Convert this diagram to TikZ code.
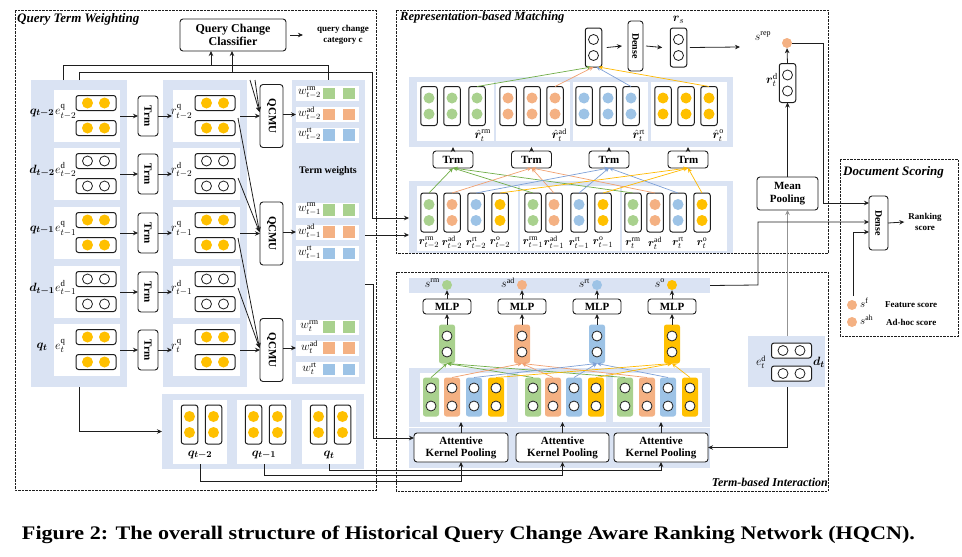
\documentclass[tikz,border=0pt]{standalone}
\usepackage{fontspec}
\usepackage{amsmath}
\usepackage{bm}
\usepackage{graphicx}
\setmainfont{Liberation Serif}
\usetikzlibrary{arrows.meta,calc}
\definecolor{lb}{RGB}{218,227,243}
\definecolor{cg}{RGB}{169,209,142}
\definecolor{co}{RGB}{244,177,131}
\definecolor{cb}{RGB}{157,195,230}
\definecolor{cy}{RGB}{255,192,0}
\definecolor{lg}{RGB}{112,173,71}
\definecolor{lo}{RGB}{241,160,112}
\definecolor{lbl}{RGB}{125,160,215}
\definecolor{ly}{RGB}{255,185,0}
\definecolor{ink}{RGB}{30,30,30}
\newcommand{\fsz}[1]{\fontsize{#1}{#1}\selectfont}
\newcommand{\prect}[6]{\node[#1, minimum width={#5-#3}, minimum height={#6-#4}] (#2) at ({(#3+#5)/2},{(#4+#6)/2}) {};}
\newcommand{\hvecn}[3]{%
  \node[vecb, minimum width=40pt, minimum height=15pt] at (#1,#2) {};
  \node[#3] at ({#1-8.5},#2) {};
  \node[#3] at ({#1+8.5},#2) {};}
\newcommand{\vvecn}[4]{%
  \node[vecb, minimum width=16.5pt, minimum height=39pt] (#1) at (#2,#3) {};
  \node[#4] at (#2,{#3-8}) {};
  \node[#4] at (#2,{#3+8}) {};}
\newcommand{\cvecn}[5]{%
  \node[cvecs, fill=#4, minimum width=16pt, minimum height=39pt] (#1) at (#2,#3) {};
  \node[dotw] at (#2,{#3-#5}) {};
  \node[dotw] at (#2,{#3+#5}) {};}
\begin{document}
\begin{tikzpicture}[x=1pt,y=-1pt,
  box/.style={draw=ink, line width=0.9pt, rounded corners=3pt, fill=white, inner sep=0pt, outer sep=0pt},
  panel/.style={fill=lb, draw=none, inner sep=0pt, outer sep=0pt},
  wpanel/.style={fill=white, draw=none, inner sep=0pt, outer sep=0pt},
  vecb/.style={draw=ink, line width=1pt, rounded corners=2.5pt, fill=white, inner sep=0pt, outer sep=0pt},
  cvecs/.style={draw=none, rounded corners=2.5pt, inner sep=0pt, outer sep=0pt},
  dotw/.style={circle, draw=ink, line width=0.8pt, fill=white, minimum size=10pt, inner sep=0pt},
  dotf/.style={circle, draw=none, minimum size=11pt, inner sep=0pt},
  qdot/.style={dotf, fill=cy},
  arr/.style={-{Stealth[length=5pt,width=4.5pt]}, line width=0.8pt, draw=ink},
  plain/.style={line width=0.8pt, draw=ink},
  carr/.style={-{Stealth[length=4.5pt,width=4pt]}, line width=0.7pt},
  border/.style={draw=ink, line width=0.6pt, dash pattern=on 2.5pt off 1pt},
  sq/.style={draw=none, minimum size=11.5pt, inner sep=0pt},
  ttl/.style={inner sep=0pt, anchor=west},
  lab/.style={inner sep=0pt},
]
\useasboundingbox (0,0) rectangle (962,557);

% ================= Query Term Weighting =================
\draw[border] (15,10) rectangle (376,490);
\node[ttl, font=\fsz{13}\bfseries\itshape] (ttlq) at (17,19) {Query Term Weighting};
\prect{panel}{epan}{31}{80}{127}{387}
\prect{panel}{rpan}{163}{80}{247}{387}
\prect{panel}{wpan}{292}{80}{365}{384}
\foreach \i/\tp/\ds/\kd/\sbs in {1/90/qdot/q/t-2, 2/148/dotw/d/t-2, 3/207/qdot/q/t-1, 4/266/dotw/d/t-1, 5/324/qdot/q/t}{
  \tikzset{curdot/.style/.expanded={\ds}}
  \pgfmathsetmacro\rc{\tp+26}
  \prect{wpanel}{ew\i}{54}{\tp}{120}{\tp+52}
  \hvecn{96}{\tp+13}{curdot}
  \hvecn{96}{\tp+38}{curdot}
  \node[lab, font=\fsz{13}] (ql\i) at (42,\rc-3) {$\bm{\kd}_{\bm{\sbs}}$};
  \node[lab, font=\fsz{12.5}, anchor=west] (el\i) at (55,\rc-4) {$e^{\mathrm{\kd}}_{\sbs}$};
  \node[box, minimum width=20pt, minimum height=40pt] (trm\i) at (148,\rc) {\rotatebox{-90}{\fsz{11}\bfseries Trm}};
  \prect{wpanel}{rw\i}{173}{\tp}{240}{\tp+52}
  \hvecn{215}{\tp+13}{curdot}
  \hvecn{215}{\tp+38}{curdot}
  \node[lab, font=\fsz{12.5}, anchor=west] (rl\i) at (171,\rc-4) {$r^{\mathrm{\kd}}_{\sbs}$};
  \draw[arr] (120,\rc) -- (trm\i.west);
  \draw[arr] (trm\i.east) -- (172,\rc);
}
\foreach \k/\yc in {1/116, 2/233.5, 3/350}{
  \node[box, minimum width=23pt, minimum height=63pt] (qcmu\k) at (271.5,\yc) {\rotatebox{-90}{\fsz{11}\bfseries QCMU}};
}
\draw[arr] (250,80) -- (259.5,112);
\draw[arr] (255,80) -- (259.5,112);
\draw[arr] (240,116) -- (qcmu1.west);
\draw[arr] (238,118) -- (259.5,232);
\draw[arr] (238,178) -- (259.5,232);
\draw[arr] (240,233.5) -- (qcmu2.west);
\draw[arr] (238,238) -- (259.5,348);
\draw[arr] (238,288) -- (259.5,348);
\draw[arr] (240,350) -- (qcmu3.west);
\foreach \g/\ya/\yb/\yc/\sbs in {1/93.5/114.5/135/t-2, 2/210/232/253.5/t-1, 3/327/348/369.5/t}{
  \foreach \y/\tp/\col/\nm in {\ya/rm/cg/a, \yb/ad/co/b, \yc/rt/cb/c}{
    \node[wpanel, minimum width=63pt, minimum height=15pt] (w\g\nm) at (327.5,\y) {};
    \node[lab, font=\fsz{11.5}] at (309.5,\y-1) {$w^{\mathrm{\tp}}_{\sbs}$};
    \node[sq, fill=\col] at (329,\y) {};
    \node[sq, fill=\col] at (349,\y) {};
  }
}
\draw[arr] (qcmu1.east |- w1b.west) -- (w1b.west);
\draw[arr] (qcmu2.east |- w2b.west) -- (w2b.west);
\draw[arr] (qcmu3.east |- w3b.west) -- (w3b.west);
\node[lab, font=\fsz{10}\bfseries] (twl) at (328,171) {Term weights};

\prect{panel}{qpan}{162}{394}{364}{469}
\foreach \k/\xl/\sbs in {1/173/t-2, 2/237/t-1, 3/302/t}{
  \prect{wpanel}{qcell\k}{\xl}{400}{\xl+54}{464}
  \vvecn{qa\k}{\xl+16.5}{424.5}{qdot}
  \vvecn{qb\k}{\xl+40.5}{424.5}{qdot}
  \node[lab, font=\fsz{13}] (qlab\k) at (\xl+27,455) {$\bm{q}_{\bm{\sbs}}$};
}

\node[box, minimum width=106pt, minimum height=32pt, align=center, font=\fontsize{12}{13.5}\selectfont\bfseries] (clf) at (233,35) {Query Change\\Classifier};
\node[lab, align=center, font=\fontsize{9}{10.5}\selectfont\bfseries] (qcc) at (343,35) {query change\\category c};
\draw[arr] ([xshift=4pt]clf.east) -- ([xshift=-14pt]qcc.west);

\draw[plain] (63,80) -- (63,65) -- (328,65) -- (328,80);
\draw[arr] (211,65) -- (211,51);
\draw[plain] (79,80) -- (79,72) -- (372,72) -- (372,218);
\draw[arr] (372,218) -- (409,218);
\draw[arr] (232,72) -- (232,51);
\draw[arr] (365,235) -- (409,235);
\draw[arr] (79,387) |- (qpan.west);

% ================= Representation-based Matching =================
\draw[border] (396,10) rectangle (828,253);
\node[ttl, font=\fsz{12.5}\bfseries\itshape] (ttlr) at (400,17) {Representation-based Matching};
\vvecn{cat}{593.5}{47.5}{dotw}
\node[box, minimum width=15pt, minimum height=50pt] (dn1) at (635.5,46) {\rotatebox{-90}{\fsz{10}\bfseries Dense}};
\vvecn{rs}{678.5}{47.5}{dotw}
\node[lab, font=\fsz{13}] (rsl) at (678.5,20) {$\bm{r}_{s}$};
\draw[arr] ([xshift=5pt]cat.east) -- ([xshift=-6pt]dn1.west);
\draw[arr] ([xshift=3pt]dn1.east) -- ([xshift=-8pt]rs.west);
\coordinate (srepin) at (740,47);
\draw[arr] ([xshift=3pt]rs.east) -- (srepin);

\prect{panel}{upan}{409}{77}{733}{147}
\foreach \g/\xa/\xb/\tp in {1/417/494/rm, 2/496/570/ad, 3/573/648/rt, 4/651/727/o}{
  \prect{wpanel}{ug\g}{\xa}{82}{\xb}{141}
  \node[lab, font=\fsz{11.5}, anchor=east] at (\xb-3,135.5) {$\hat{\bm{r}}^{\mathrm{\tp}}_{t}$};
}
\foreach \n/\x/\col in {1/429/cg, 2/452/cg, 3/477/cg, 4/508/co, 5/532/co, 6/555/co, 7/584/cb, 8/608/cb, 9/631/cb, 10/663/cy, 11/686/cy, 12/709/cy}{
  \vvecn{uv\n}{\x}{106}{dotf,fill=\col}
}
\foreach \k/\x in {1/453, 2/531.5, 3/609, 4/688}{
  \node[box, minimum width=40pt, minimum height=17pt, font=\fsz{11}\bfseries] (trn\k) at (\x,159.5) {Trm};
  \draw[arr] (trn\k.north) -- (\x,147);
}
\prect{panel}{lpan}{409}{181}{733}{253}
\prect{wpanel}{lgrp1}{417}{186}{518}{251}
\prect{wpanel}{lgrp2}{520}{186}{620}{251}
\prect{wpanel}{lgrp3}{622}{186}{727}{251}
\foreach \n/\x/\col/\tp/\sbs in {1/429/cg/rm/t-2, 2/452/co/ad/t-2, 3/476/cb/rt/t-2, 4/500/cy/o/t-2, 5/533/cg/rm/t-1, 6/554/co/ad/t-1, 7/579/cb/rt/t-1, 8/603/cy/o/t-1, 9/633/cg/rm/t, 10/655/co/ad/t, 11/678/cb/rt/t, 12/702/cy/o/t}{
  \vvecn{lv\n}{\x}{212.5}{dotf,fill=\col}
  \node[lab, font=\fsz{11}] at (\x,243) {$\bm{r}^{\mathrm{\tp}}_{\sbs}$};
}
\foreach \va/\vb/\vc/\k/\col in {1/5/9/1/lg, 2/6/10/2/lo, 3/7/11/3/lbl, 4/8/12/4/ly}{
  \foreach \v in {\va,\vb,\vc}{\draw[carr, draw=\col] (lv\v.north) -- (trn\k.south);}
}
\draw[carr, draw=lg] (uv3.north) -- ([xshift=-2pt]cat.south);
\draw[carr, draw=lo] (uv6.north) -- ([xshift=0pt]cat.south);
\draw[carr, draw=lbl] (uv9.north) -- ([xshift=3pt]cat.south);
\draw[carr, draw=ly] (uv12.north) -- ([xshift=5pt]cat.south);

\node[lab, font=\fsz{12}] (srl) at (763,36) {$s^{\mathrm{rep}}$};
\node[dotf, fill=co, minimum size=10pt] (srep) at (787,43) {};
\vvecn{rtd}{787.5}{83}{dotw}
\node[lab, font=\fsz{12.5}, anchor=east] (rtdl) at (778,80) {$\bm{r}^{\mathrm{d}}_{t}$};
\node[box, minimum width=61pt, minimum height=33pt, align=center, font=\fontsize{11}{12.5}\selectfont\bfseries] (mp) at (787.5,193.5) {Mean\\Pooling};

% ================= Term-based Interaction =================
\draw[border] (396,272) rectangle (828,491);
\node[ttl, anchor=east, font=\fsz{12}\bfseries\itshape] (ttlt) at (828,482) {Term-based Interaction};
\prect{panel}{span}{409}{278}{710}{293}
\foreach \k/\x/\col/\tp in {1/447/cg/rm, 2/522/co/ad, 3/597/cb/rt, 4/672/cy/o}{
  \node[dotf, fill=\col, minimum size=10pt] (s\k) at (\x,285) {};
  \node[lab, font=\fsz{12}, anchor=east] at (\x-7,283) {$s^{\mathrm{\tp}}$};
  \node[box, minimum width=48pt, minimum height=15pt, font=\fsz{11}\bfseries] (mlp\k) at (\x,306.5) {MLP};
  \cvecn{cv\k}{\x}{344}{\col}{8}
  \draw[arr] (cv\k.north) -- (mlp\k.south);
  \draw[arr] (mlp\k.north) -- (s\k.south);
}
\prect{panel}{tpan}{409}{368}{710}{427}
\prect{wpanel}{tg1}{420}{373}{507}{422}
\prect{wpanel}{tg2}{518}{373}{606}{422}
\prect{wpanel}{tg3}{613}{373}{702}{422}
\foreach \n/\x/\col in {1/431/cg, 2/452/co, 3/474/cb, 4/496/cy, 5/533/cg, 6/553/co, 7/574/cb, 8/596/cy, 9/625/cg, 10/647/co, 11/668/cb, 12/690/cy}{
  \cvecn{tv\n}{\x}{397}{\col}{9}
}
\foreach \va/\vb/\vc/\k/\col in {1/5/9/1/lg, 2/6/10/2/lo, 3/7/11/3/lbl, 4/8/12/4/ly}{
  \foreach \v in {\va,\vb,\vc}{\draw[carr, draw=\col] (tv\v.north) -- (cv\k.south);}
}
\prect{panel}{apan}{409}{428}{710}{468}
\foreach \k/\x/\w in {1/461/94, 2/562.5/93, 3/661/94}{
  \node[box, minimum width=\w pt, minimum height=29pt, align=center, font=\fontsize{11}{12}\selectfont\bfseries] (akp\k) at (\x,447.5) {Attentive\\Kernel Pooling};
  \draw[arr] (akp\k.north) -- (\x,422);
}

\prect{panel}{dpan}{748}{336}{825}{387}
\hvecn{791.5}{350.5}{dotw}
\hvecn{791.5}{373.5}{dotw}
\node[lab, font=\fsz{12}] (edl) at (761,362) {$e^{\mathrm{d}}_{t}$};
\node[lab, font=\fsz{13}] (dtl) at (819,362) {$\bm{d}_{\bm{t}}$};

% ================= Document Scoring =================
\draw[border] (840,159) rectangle (958,336);
\node[ttl, font=\fsz{13}\bfseries\itshape] (ttld) at (843,172) {Document Scoring};
\node[box, minimum width=19pt, minimum height=54pt] (dn2) at (878.5,223) {\rotatebox{-90}{\fsz{10}\bfseries Dense}};
\node[lab, align=center, font=\fontsize{9}{10.5}\selectfont\bfseries] (rks) at (925,222) {Ranking\\score};
\draw[arr] (dn2.east) -- ([xshift=-4pt]rks.west);
\node[dotf, fill=co, minimum size=10pt] (sf) at (852,305) {};
\node[dotf, fill=co, minimum size=10pt] (sah) at (852,322) {};
\node[lab, font=\fsz{11}, anchor=west] at (860,303) {$s^{\mathrm{f}}$};
\node[lab, font=\fsz{11}, anchor=west] at (860,320) {$s^{\mathrm{ah}}$};
\node[lab, font=\fsz{9}\bfseries, anchor=west] at (885,305) {Feature score};
\node[lab, font=\fsz{9}\bfseries, anchor=west] at (886,322) {Ad-hoc score};

% ================= cross connectors =================
\draw[arr, draw=gray!85, line width=1.4pt] (787.5,336) -- (mp.south);
\draw[arr] (mp.north) -- (rtd.south);
\draw[arr] (rtd.north) -- (srep.south);
\draw[arr] (srep.east) -- (823,43) -- (823,203) -- (dn2.west |- 0,203);
\draw[arr] (span.east) -- (758,285) -- (758,222) -- (dn2.west |- 0,222);
\draw[arr] (853,296) -- (853,232) -- (dn2.west |- 0,232);
\draw[arr] (787,387) |- (akp3.east);
\draw[arr] (365,284) -- (373,284) -- (373,438) -- (akp1.west |- 0,438);
\draw[arr] (qcell1.south) -- (200,481) -| (akp1.south);
\draw[arr] (qcell2.south) -- (264,475.5) -| (akp2.south);
\draw[arr] (qcell3.south) -- (329,470) -| (akp3.south);

% ================= caption =================
\node[font=\fsz{18}\bfseries] (cap) at (468.5,535) {\resizebox{893pt}{13.5pt}{Figure 2: The overall structure of Historical Query Change Aware Ranking Network (HQCN).}};
\end{tikzpicture}
\end{document}
